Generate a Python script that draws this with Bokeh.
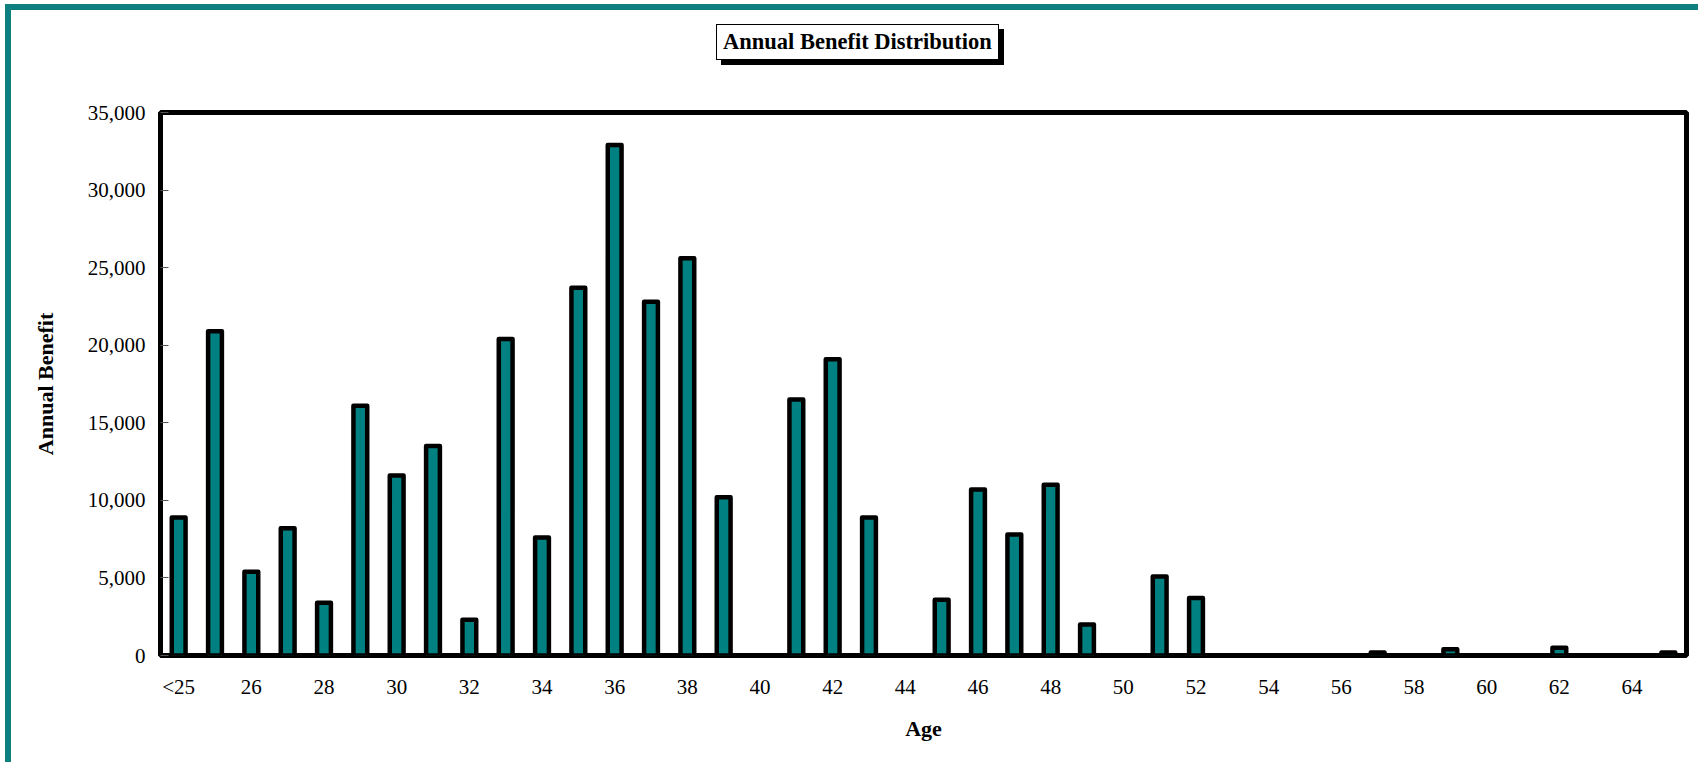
from bokeh.plotting import figure
from bokeh.models import Range1d, FixedTicker, NumeralTickFormatter, Div
from bokeh.layouts import column
from bokeh.embed import file_html
from bokeh.resources import INLINE

# ---- data ----
ages = ["<25"] + [str(a) for a in range(25, 66)]
benefit = [8900, 20900, 5400, 8200, 3400, 16100, 11600, 13500, 2300, 20400, 7600,
           23700, 32900, 22800, 25600, 10200, 0, 16500, 19100, 8900, 0,
           3600, 10700, 7800, 11000, 2000, 0, 5100, 3700, 0, 0, 0, 0,
           200, 0, 400, 0, 0, 500, 0, 0, 200]
y_ticks = [0, 5000, 10000, 15000, 20000, 25000, 30000, 35000]
title_text = "Annual Benefit Distribution"

TEAL = "#008080"
FONT = "Liberation Serif"

xs = list(range(len(ages)))

W = 1687
TITLE_H = 80
FIG_H = 662

p = figure(width=W, height=FIG_H, x_range=Range1d(-0.5, len(ages) - 0.5),
           y_range=Range1d(0, 35000), output_backend="svg", toolbar_location=None,
           min_border_left=149, min_border_right=12, min_border_top=12,
           min_border_bottom=107)

p.vbar(x=xs, top=benefit, width=0.38, fill_color=TEAL, line_color="black",
       line_width=4.5, line_join="round")

p.xgrid.grid_line_color = None
p.ygrid.grid_line_color = None
p.outline_line_color = "black"
p.outline_line_width = 5
p.background_fill_color = "white"
p.border_fill_color = "white"

# y axis
ya = p.yaxis[0]
ya.ticker = FixedTicker(ticks=y_ticks)
ya.formatter = NumeralTickFormatter(format="0,0")
ya.axis_line_color = None
ya.major_tick_in = 8
ya.major_tick_out = 0
ya.major_tick_line_color = "#555555"
ya.minor_tick_line_color = None
ya.major_label_standoff = 15
ya.major_label_text_font = FONT
ya.major_label_text_font_size = "21px"
ya.major_label_text_color = "black"
ya.axis_label = "Annual Benefit"
ya.axis_label_text_font = FONT
ya.axis_label_text_font_style = "bold"
ya.axis_label_text_font_size = "22px"
ya.axis_label_text_color = "black"
ya.axis_label_standoff = 27

# x axis: label every other age
xa = p.xaxis[0]
xa.ticker = FixedTicker(ticks=xs[::2])
xa.major_label_overrides = {i: ages[i] for i in xs[::2]}
xa.axis_line_color = None
xa.major_tick_line_color = None
xa.minor_tick_line_color = None
xa.major_label_standoff = 13
xa.major_label_text_font = FONT
xa.major_label_text_font_size = "21px"
xa.major_label_text_color = "black"
xa.axis_label = "Age"
xa.axis_label_text_font = FONT
xa.axis_label_text_font_style = "bold"
xa.axis_label_text_font_size = "22px"
xa.axis_label_text_color = "black"
xa.axis_label_standoff = 14

# title box with drop shadow
title_html = (
    f'<div style="position:relative;width:{W - 10}px;height:{TITLE_H - 10}px;">'
    '<div style="position:absolute;left:700px;top:9px;background:white;'
    'border:1px solid black;box-shadow:5px 5px 0 black;padding:3px 6px 3px 6px;'
    f'font-family:\'{FONT}\';font-weight:bold;font-size:22.5px;line-height:28px;'
    f'color:black;white-space:nowrap;">{title_text}</div></div>'
)
title_div = Div(text=title_html, width=W, height=TITLE_H,
                styles={"background": "white"})

layout = column(title_div, p, spacing=0,
                styles={"border-top": "6px solid #0e8080",
                        "border-left": "6px solid #0e8080",
                        "margin-top": "4px", "margin-left": "5px",
                        "background": "white"})

open("out.html", "w").write(file_html(layout, INLINE))
